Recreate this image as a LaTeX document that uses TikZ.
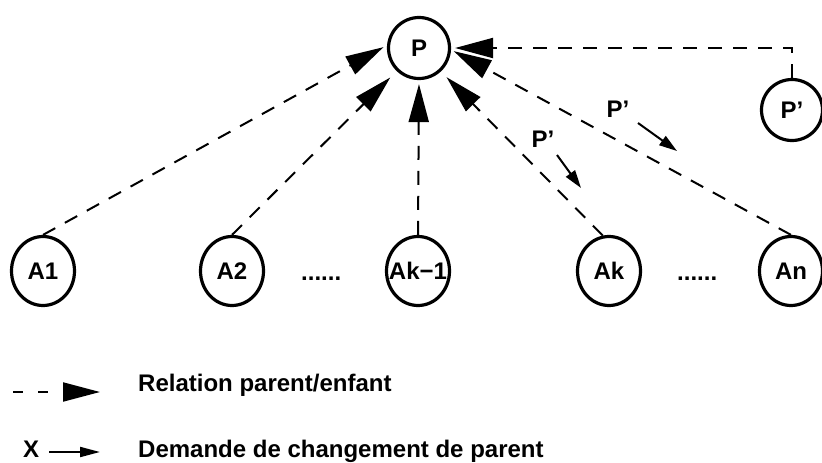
\documentclass[tikz,border=0pt]{standalone}
\usepackage{fontspec}
\setmainfont{Liberation Sans}
\usetikzlibrary{arrows.meta,shapes.geometric}
\begin{document}
\begin{tikzpicture}[x=1pt,y=-1pt,
  every node/.style={font=\fontsize{24}{28}\selectfont\bfseries},
  pnode/.style={draw,circle,line width=3.2pt,minimum size=61pt,inner sep=0pt},
  anode/.style={draw,ellipse,line width=3.2pt,minimum width=63pt,minimum height=69pt,inner sep=0pt},
  rel/.style={line width=2pt,dash pattern=on 14pt off 11pt,-{Triangle[length=38pt,width=20pt]}},
  req/.style={line width=2pt,-{Triangle[length=18pt,width=11pt]}},
  lbl/.style={anchor=base west,inner sep=0pt}
]
\useasboundingbox (0,0) rectangle (822,463);
% nodes
\node[pnode] (P) at (419,48) {P};
\node[pnode] (Pp) at (792,110) {P'};
\node[anode] (A1) at (43,271) {\makebox[0pt]{A1}};
\node[anode] (A2) at (232,271) {\makebox[0pt]{A2}};
\node[anode] (Ak1) at (418,271) {\makebox[0pt]{Ak\textminus 1}};
\node[anode] (Ak) at (609,271) {\makebox[0pt]{Ak}};
\node[anode] (An) at (791,271) {\makebox[0pt]{An}};
\node[lbl] (d1) at (301,280) {......};
\node[lbl] (d2) at (677,280) {......};
% parent relations
\draw[rel,shorten >=4pt] (A1.north) -- (P.175);
\draw[rel,shorten >=9pt] (A2.north) -- (P.226);
\draw[rel,shorten >=4pt] (Ak1.north) -- (P.270);
\draw[rel,shorten >=8pt] (Ak.100) -- (P.313);
\draw[rel,shorten >=3pt] (An.north) -- (P.357);
\draw[rel,shorten >=4pt] (Pp.north) |- (P.east);
% change requests
\node[inner sep=0pt] (q1) at (618,109) {P'};
\node[inner sep=0pt] (q2) at (543,139) {P'};
\coordinate (q1s) at (638,123);
\coordinate (q1e) at (677,151);
\coordinate (q2s) at (557,155);
\coordinate (q2e) at (581,188);
\draw[req] (q1s) -- (q1e);
\draw[req] (q2s) -- (q2e);
% legend
\coordinate (l1s) at (13,392);
\coordinate (l1e) at (100,392);
\draw[line width=2pt,dash pattern=on 10pt off 15pt,-{Triangle[length=37pt,width=19pt]}] (l1s) -- (l1e);
\node[lbl] (t1) at (138,391) {Relation parent/enfant};
\node[lbl] (x2) at (23,457) {X};
\coordinate (l2s) at (49,452);
\coordinate (l2e) at (100,452);
\draw[line width=2pt,-{Triangle[length=20pt,width=10pt]}] (l2s) -- (l2e);
\node[lbl] (t2) at (138,457) {Demande de changement de parent};
\end{tikzpicture}
\end{document}
